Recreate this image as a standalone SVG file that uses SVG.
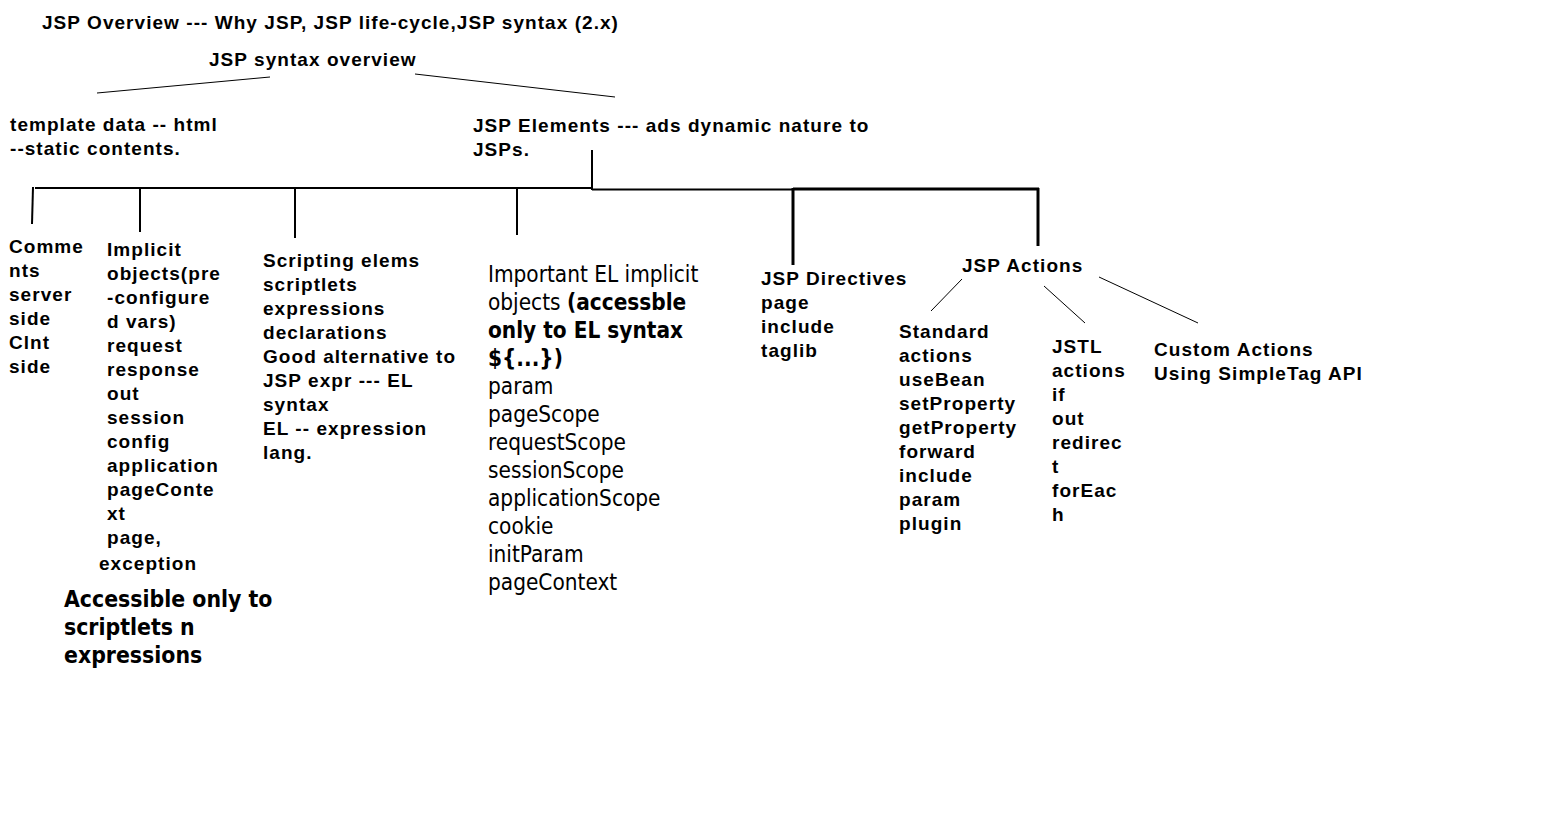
<svg xmlns="http://www.w3.org/2000/svg" width="1567" height="840" viewBox="0 0 1567 840">
<style>
.a{font-family:"Liberation Sans",Arial,sans-serif;font-weight:bold;font-size:19px;letter-spacing:1.05px;fill:#000}
.t{font-family:"DejaVu Sans Condensed","DejaVu Sans",sans-serif;font-size:22.4px;fill:#000}
.n{font-family:"DejaVu Sans Condensed","DejaVu Sans",sans-serif;font-size:22.8px;font-weight:bold;fill:#000}
.b{font-weight:bold}
.thin{stroke:#000;stroke-width:1;fill:none}
.med{stroke:#000;stroke-width:2;fill:none}
.thick{stroke:#000;stroke-width:3;fill:none}
</style>
<rect width="1567" height="840" fill="#fff"/>
<g id="connectors">
<line class="thin" x1="97" y1="93" x2="270" y2="77"/>
<line class="thin" x1="415" y1="74" x2="615" y2="97"/>
<line class="med" x1="592" y1="150" x2="592" y2="190"/>
<line class="med" x1="35" y1="188" x2="592" y2="188"/>
<line class="med" x1="592" y1="189.5" x2="793" y2="189.5"/>
<line class="thick" x1="793" y1="189" x2="1039" y2="189"/>
<line class="med" x1="33" y1="187" x2="32" y2="224"/>
<line class="med" x1="140" y1="188" x2="140" y2="232"/>
<line class="med" x1="295" y1="188" x2="295" y2="238"/>
<line class="med" x1="517" y1="188" x2="517" y2="235"/>
<line class="thick" x1="793" y1="188" x2="793" y2="265"/>
<line class="thick" x1="1038" y1="188" x2="1038" y2="246"/>
<line class="thin" x1="962" y1="279" x2="931" y2="311"/>
<line class="thin" x1="1044" y1="286" x2="1085" y2="323"/>
<line class="thin" x1="1099" y1="277" x2="1198" y2="323"/>
</g>
<g id="title"><text class="a" x="42" y="29">JSP Overview --- Why JSP, JSP life-cycle,JSP syntax (2.x)</text></g>
<g id="syntax-overview"><text class="a" x="209" y="66">JSP syntax overview</text></g>
<g id="template-data"><text class="a" x="10" y="131">template data -- html<tspan x="10" dy="24">--static contents.</tspan></text></g>
<g id="jsp-elements"><text class="a" x="473" y="132">JSP Elements --- ads dynamic nature to<tspan x="473" dy="24">JSPs.</tspan></text></g>
<g id="comments"><text class="a" x="9" y="253">Comme<tspan x="9" dy="24">nts</tspan><tspan x="9" dy="24">server</tspan><tspan x="9" dy="24">side</tspan><tspan x="9" dy="24">Clnt</tspan><tspan x="9" dy="24">side</tspan></text></g>
<g id="implicit-objects"><text class="a" x="107" y="256">Implicit<tspan x="107" dy="24">objects(pre</tspan><tspan x="107" dy="24">-configure</tspan><tspan x="107" dy="24">d vars)</tspan><tspan x="107" dy="24">request</tspan><tspan x="107" dy="24">response</tspan><tspan x="107" dy="24">out</tspan><tspan x="107" dy="24">session</tspan><tspan x="107" dy="24">config</tspan><tspan x="107" dy="24">application</tspan><tspan x="107" dy="24">pageConte</tspan><tspan x="107" dy="24">xt</tspan><tspan x="107" dy="24">page,</tspan><tspan x="99" dy="26">exception</tspan></text></g>
<g id="accessible-note"><text class="n" x="64" y="607">Accessible only to<tspan x="64" dy="28">scriptlets n</tspan><tspan x="64" dy="28">expressions</tspan></text></g>
<g id="scripting"><text class="a" x="263" y="267">Scripting elems<tspan x="263" dy="24">scriptlets</tspan><tspan x="263" dy="24">expressions</tspan><tspan x="263" dy="24">declarations</tspan><tspan x="263" dy="24">Good alternative to</tspan><tspan x="263" dy="24">JSP expr --- EL</tspan><tspan x="263" dy="24">syntax</tspan><tspan x="263" dy="24">EL -- expression</tspan><tspan x="263" dy="24">lang.</tspan></text></g>
<g id="el-implicit"><text class="t" x="488" y="282">Important EL implicit<tspan x="488" dy="28">objects <tspan class="b">(accessble</tspan></tspan><tspan x="488" dy="28" class="b">only to EL syntax</tspan><tspan x="488" dy="28" class="b">${...})</tspan><tspan x="488" dy="28">param</tspan><tspan x="488" dy="28">pageScope</tspan><tspan x="488" dy="28">requestScope</tspan><tspan x="488" dy="28">sessionScope</tspan><tspan x="488" dy="28">applicationScope</tspan><tspan x="488" dy="28">cookie</tspan><tspan x="488" dy="28">initParam</tspan><tspan x="488" dy="28">pageContext</tspan></text></g>
<g id="directives"><text class="a" x="761" y="285">JSP Directives<tspan x="761" dy="24">page</tspan><tspan x="761" dy="24">include</tspan><tspan x="761" dy="24">taglib</tspan></text></g>
<g id="actions"><text class="a" x="962" y="272">JSP Actions</text></g>
<g id="standard-actions"><text class="a" x="899" y="338">Standard<tspan x="899" dy="24">actions</tspan><tspan x="899" dy="24">useBean</tspan><tspan x="899" dy="24">setProperty</tspan><tspan x="899" dy="24">getProperty</tspan><tspan x="899" dy="24">forward</tspan><tspan x="899" dy="24">include</tspan><tspan x="899" dy="24">param</tspan><tspan x="899" dy="24">plugin</tspan></text></g>
<g id="jstl-actions"><text class="a" x="1052" y="353">JSTL<tspan x="1052" dy="24">actions</tspan><tspan x="1052" dy="24">if</tspan><tspan x="1052" dy="24">out</tspan><tspan x="1052" dy="24">redirec</tspan><tspan x="1052" dy="24">t</tspan><tspan x="1052" dy="24">forEac</tspan><tspan x="1052" dy="24">h</tspan></text></g>
<g id="custom-actions"><text class="a" x="1154" y="356">Custom Actions<tspan x="1154" dy="24">Using SimpleTag API</tspan></text></g>
</svg>
